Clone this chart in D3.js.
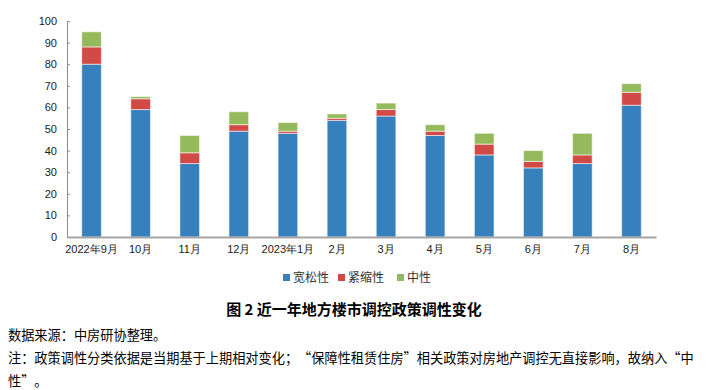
<!DOCTYPE html>
<html>
<head>
<meta charset="utf-8">
<script src="https://cdn.jsdelivr.net/npm/d3@7"></script>
<style>
  body { margin: 0; background: #fff; }
  svg { display: block; font-family: "Noto Sans CJK SC", "Liberation Sans", sans-serif; }
  .note { text-spacing-trim: space-all; font-feature-settings: "fwid" 1; }
</style>
</head>
<body>
<svg id="chart" width="706" height="390"></svg>
<script>
// months
var months = ['2022年9月', '10月', '11月', '12月', '2023年1月', '2月', '3月', '4月', '5月', '6月', '7月', '8月'];
// policy counts by stance
var loose   = [80, 59, 34, 49, 48, 54, 56, 47, 38, 32, 34, 61];
var tight   = [8, 5, 5, 3, 1, 1, 3, 2, 5, 3, 4, 6];
var neutral = [7, 1, 8, 6, 4, 2, 3, 3, 5, 5, 10, 4];
var seriesNames = ['宽松性', '紧缩性', '中性'];
var yTicks = [0, 10, 20, 30, 40, 50, 60, 70, 80, 90, 100];

var colors = ['#3680BD', '#D24A46', '#95BA5C'];

var svg = d3.select('#chart');
var plotL = 67, plotR = 656, plotT = 21, plotB = 237;

var rows = months.map(function(m, i) {
  return {month: m, '宽松性': loose[i], '紧缩性': tight[i], '中性': neutral[i]};
});
var stacked = d3.stack().keys(seriesNames)(rows);

var x = d3.scaleBand().domain(months).range([plotL, plotR]).paddingInner(0.6).paddingOuter(0.3);
var y = d3.scaleLinear().domain([0, 100]).range([plotB, plotT]);

// y axis
var yAxis = svg.append('g')
  .attr('transform', 'translate(' + plotL + ',0)')
  .call(d3.axisLeft(y).tickValues(yTicks).tickSize(-3).tickPadding(10));
yAxis.select('.domain').attr('stroke', '#8c8c8c');
yAxis.selectAll('.tick line').attr('stroke', '#8c8c8c');
yAxis.selectAll('text').attr('fill', '#1a1a1a').style('font-size', '11px')
  .style('font-family', '"Liberation Sans", Arial, sans-serif');

// bars
svg.append('g').selectAll('g')
  .data(stacked)
  .enter().append('g')
    .attr('fill', function(d, i) { return colors[i]; })
  .selectAll('rect')
  .data(function(d) { return d; })
  .enter().append('rect')
    .attr('x', function(d) { return x(d.data.month); })
    .attr('y', function(d) { return y(d[1]); })
    .attr('width', x.bandwidth())
    .attr('height', function(d) { return y(d[0]) - y(d[1]); })
    .attr('stroke', '#fff')
    .attr('stroke-opacity', 0.55)
    .attr('stroke-width', 1);

// x axis
var xAxis = svg.append('g')
  .attr('transform', 'translate(0,' + plotB + ')')
  .call(d3.axisBottom(x).tickSize(0).tickPadding(8));
xAxis.select('.domain').attr('stroke', '#a6a6a6').attr('stroke-width', 2);
xAxis.selectAll('text').attr('fill', '#1a1a1a').style('font-size', '11px');

// legend
var legendX = [283, 338, 397];
var legend = svg.append('g').selectAll('g')
  .data(seriesNames)
  .enter().append('g')
    .attr('transform', function(d, i) { return 'translate(' + legendX[i] + ',274)'; });
legend.append('rect')
  .attr('width', 7).attr('height', 7)
  .attr('fill', function(d, i) { return colors[i]; });
legend.append('text')
  .attr('x', 10).attr('y', 7.5)
  .attr('fill', '#333')
  .style('font-size', '12px')
  .text(function(d) { return d; });

// caption and notes
svg.append('text')
  .attr('x', 354).attr('y', 315)
  .attr('text-anchor', 'middle')
  .style('font-size', '15px').style('font-weight', 'bold')
  .attr('fill', '#000')
  .text('图 2  近一年地方楼市调控政策调性变化');

var notes = [
  '数据来源：中房研协整理。',
  '注：政策调性分类依据是当期基于上期相对变化；“保障性租赁住房”相关政策对房地产调控无直接影响，故纳入“中',
  '性”。'
];
svg.append('g').selectAll('text')
  .data(notes)
  .enter().append('text')
    .attr('class', 'note')
    .attr('x', 8)
    .attr('y', function(d, i) { return 340 + i * 23; })
    .attr('fill', '#000')
    .style('font-size', '13.2px')
    .text(function(d) { return d; });
</script>
</body>
</html>
